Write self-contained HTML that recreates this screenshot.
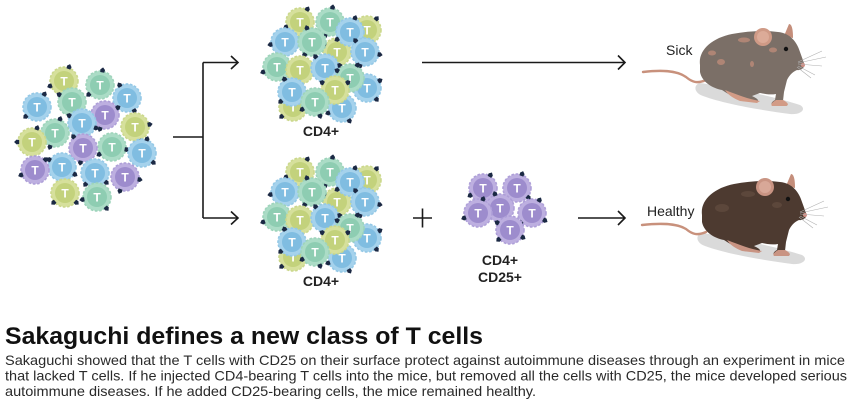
<!DOCTYPE html>
<html><head><meta charset="utf-8"><style>
html,body{margin:0;padding:0;background:#fff}
svg{display:block}
.o{stroke-width:1.6;stroke-dasharray:2.6 1.7}
.y .o{fill:#d6e09c;stroke:#cbd88c}.y .i{fill:#c3d27c}
.g .o{fill:#abdcc6;stroke:#9ed4bb}.g .i{fill:#8ecdb2}
.b .o{fill:#a5d2ec;stroke:#94c8e6}.b .i{fill:#80bde1}
.p .o{fill:#bdafe0;stroke:#ae9fd8}.p .i{fill:#9d8ccd}
.c text{font-family:"Liberation Sans",sans-serif;font-weight:bold;font-size:12px;fill:#fff;text-anchor:middle}
.c use{fill:#1b2944}
.lbl{font-family:"Liberation Sans",sans-serif;font-weight:bold;font-size:14px;fill:#222;text-anchor:middle}
.ml{font-family:"Liberation Sans",sans-serif;font-size:14px;fill:#222}
.ar{stroke:#1a1a1a;stroke-width:1.6;fill:none}
</style></head><body>
<svg width="850" height="408" viewBox="0 0 850 408" xmlns="http://www.w3.org/2000/svg">
<defs>
<path id="r" d="M-2,-12.8 L-2.4,-15.5 L0,-17.9 L2.4,-15.5 L2,-12.8 Z"/>
</defs>
<rect width="850" height="408" fill="#fff"/>

<!-- Left cluster -->
<g>
<g class="c y" transform="translate(64,81)"><circle class="o" r="14"/><circle class="i" r="10"/><text y="4.3">T</text><use href="#r" transform="rotate(20)"/><use href="#r" transform="rotate(250)"/></g>
<g class="c g" transform="translate(100,85)"><circle class="o" r="14"/><circle class="i" r="10"/><text y="4.3">T</text><use href="#r" transform="rotate(10)"/><use href="#r" transform="rotate(230)"/></g>
<g class="c b" transform="translate(37,107)"><circle class="o" r="14"/><circle class="i" r="10"/><text y="4.3">T</text><use href="#r" transform="rotate(30)"/><use href="#r" transform="rotate(230)"/></g>
<g class="c b" transform="translate(127,98)"><circle class="o" r="14"/><circle class="i" r="10"/><text y="4.3">T</text><use href="#r" transform="rotate(330)"/><use href="#r" transform="rotate(150)"/></g>
<g class="c g" transform="translate(72,102)"><circle class="o" r="14"/><circle class="i" r="10"/><text y="4.3">T</text><use href="#r" transform="rotate(300)"/><use href="#r" transform="rotate(140)"/></g>
<g class="c p" transform="translate(105,115)"><circle class="o" r="14"/><circle class="i" r="10"/><text y="4.3">T</text><use href="#r" transform="rotate(200)"/><use href="#r" transform="rotate(60)"/></g>
<g class="c b" transform="translate(82,123)"><circle class="o" r="14"/><circle class="i" r="10"/><text y="4.3">T</text><use href="#r" transform="rotate(110)"/><use href="#r" transform="rotate(300)"/></g>
<g class="c y" transform="translate(135,127)"><circle class="o" r="14"/><circle class="i" r="10"/><text y="4.3">T</text><use href="#r" transform="rotate(80)"/><use href="#r" transform="rotate(160)"/></g>
<g class="c g" transform="translate(55,133)"><circle class="o" r="14"/><circle class="i" r="10"/><text y="4.3">T</text><use href="#r" transform="rotate(20)"/><use href="#r" transform="rotate(200)"/></g>
<g class="c y" transform="translate(32,142)"><circle class="o" r="14"/><circle class="i" r="10"/><text y="4.3">T</text><use href="#r" transform="rotate(270)"/><use href="#r" transform="rotate(20)"/></g>
<g class="c g" transform="translate(112,147)"><circle class="o" r="14"/><circle class="i" r="10"/><text y="4.3">T</text><use href="#r" transform="rotate(240)"/><use href="#r" transform="rotate(100)"/></g>
<g class="c p" transform="translate(83,148)"><circle class="o" r="14"/><circle class="i" r="10"/><text y="4.3">T</text><use href="#r" transform="rotate(190)"/><use href="#r" transform="rotate(320)"/></g>
<g class="c b" transform="translate(142,153)"><circle class="o" r="14"/><circle class="i" r="10"/><text y="4.3">T</text><use href="#r" transform="rotate(130)"/><use href="#r" transform="rotate(20)"/></g>
<g class="c b" transform="translate(62,167)"><circle class="o" r="14"/><circle class="i" r="10"/><text y="4.3">T</text><use href="#r" transform="rotate(120)"/><use href="#r" transform="rotate(300)"/></g>
<g class="c p" transform="translate(35,170)"><circle class="o" r="14"/><circle class="i" r="10"/><text y="4.3">T</text><use href="#r" transform="rotate(250)"/><use href="#r" transform="rotate(45)"/></g>
<g class="c b" transform="translate(95,173)"><circle class="o" r="14"/><circle class="i" r="10"/><text y="4.3">T</text><use href="#r" transform="rotate(220)"/><use href="#r" transform="rotate(130)"/></g>
<g class="c p" transform="translate(125,177)"><circle class="o" r="14"/><circle class="i" r="10"/><text y="4.3">T</text><use href="#r" transform="rotate(100)"/><use href="#r" transform="rotate(200)"/></g>
<g class="c y" transform="translate(65,193)"><circle class="o" r="14"/><circle class="i" r="10"/><text y="4.3">T</text><use href="#r" transform="rotate(230)"/><use href="#r" transform="rotate(130)"/></g>
<g class="c g" transform="translate(97,197)"><circle class="o" r="14"/><circle class="i" r="10"/><text y="4.3">T</text><use href="#r" transform="rotate(140)"/><use href="#r" transform="rotate(260)"/></g>
</g>

<!-- Connector -->
<path class="ar" d="M173,137 H203 M203,62.5 V218 M203,62.5 H238 M203,218 H238"/>
<path class="ar" d="M231,56 L238,62.5 L231,69 M231,211.5 L238,218 L231,224.5"/>

<!-- Top CD4+ cluster -->
<g>
<g class="c y" transform="translate(367,30)"><circle class="o" r="14"/><circle class="i" r="10"/><text y="4.3">T</text><use href="#r" transform="rotate(40)"/></g>
<g class="c y" transform="translate(293,107)"><circle class="o" r="14"/><circle class="i" r="10"/><text y="4.3">T</text><use href="#r" transform="rotate(230)"/></g>
<g class="c b" transform="translate(342,108)"><circle class="o" r="14"/><circle class="i" r="10"/><text y="4.3">T</text><use href="#r" transform="rotate(150)"/><use href="#r" transform="rotate(250)"/></g>
<g class="c b" transform="translate(367,88)"><circle class="o" r="14"/><circle class="i" r="10"/><text y="4.3">T</text><use href="#r" transform="rotate(60)"/><use href="#r" transform="rotate(140)"/></g>
<g class="c y" transform="translate(337,52)"><circle class="o" r="14"/><circle class="i" r="10"/><text y="4.3">T</text><use href="#r" transform="rotate(300)"/></g>
<g class="c y" transform="translate(300,22)"><circle class="o" r="14"/><circle class="i" r="10"/><text y="4.3">T</text><use href="#r" transform="rotate(30)"/><use href="#r" transform="rotate(250)"/></g>
<g class="c g" transform="translate(330,22)"><circle class="o" r="14"/><circle class="i" r="10"/><text y="4.3">T</text><use href="#r" transform="rotate(10)"/><use href="#r" transform="rotate(200)"/></g>
<g class="c b" transform="translate(350,32)"><circle class="o" r="14"/><circle class="i" r="10"/><text y="4.3">T</text><use href="#r" transform="rotate(20)"/><use href="#r" transform="rotate(240)"/></g>
<g class="c b" transform="translate(285,42)"><circle class="o" r="14"/><circle class="i" r="10"/><text y="4.3">T</text><use href="#r" transform="rotate(260)"/><use href="#r" transform="rotate(200)"/></g>
<g class="c g" transform="translate(312,42)"><circle class="o" r="14"/><circle class="i" r="10"/><text y="4.3">T</text><use href="#r" transform="rotate(340)"/><use href="#r" transform="rotate(210)"/></g>
<g class="c b" transform="translate(365,52)"><circle class="o" r="14"/><circle class="i" r="10"/><text y="4.3">T</text><use href="#r" transform="rotate(320)"/><use href="#r" transform="rotate(100)"/><use href="#r" transform="rotate(200)"/></g>
<g class="c g" transform="translate(277,67)"><circle class="o" r="14"/><circle class="i" r="10"/><text y="4.3">T</text><use href="#r" transform="rotate(250)"/><use href="#r" transform="rotate(150)"/></g>
<g class="c y" transform="translate(300,70)"><circle class="o" r="14"/><circle class="i" r="10"/><text y="4.3">T</text><use href="#r" transform="rotate(200)"/></g>
<g class="c b" transform="translate(325,68)"><circle class="o" r="14"/><circle class="i" r="10"/><text y="4.3">T</text><use href="#r" transform="rotate(320)"/><use href="#r" transform="rotate(80)"/></g>
<g class="c g" transform="translate(350,78)"><circle class="o" r="14"/><circle class="i" r="10"/><text y="4.3">T</text><use href="#r" transform="rotate(30)"/><use href="#r" transform="rotate(300)"/></g>
<g class="c b" transform="translate(292,92)"><circle class="o" r="14"/><circle class="i" r="10"/><text y="4.3">T</text><use href="#r" transform="rotate(230)"/><use href="#r" transform="rotate(330)"/></g>
<g class="c y" transform="translate(335,90)"><circle class="o" r="14"/><circle class="i" r="10"/><text y="4.3">T</text><use href="#r" transform="rotate(300)"/><use href="#r" transform="rotate(60)"/></g>
<g class="c g" transform="translate(315,102)"><circle class="o" r="14"/><circle class="i" r="10"/><text y="4.3">T</text><use href="#r" transform="rotate(240)"/><use href="#r" transform="rotate(160)"/></g>
</g>
<text class="lbl" x="321" y="136">CD4+</text>

<!-- Bottom CD4+ cluster -->
<g transform="translate(0,150)">
<g class="c y" transform="translate(367,30)"><circle class="o" r="14"/><circle class="i" r="10"/><text y="4.3">T</text><use href="#r" transform="rotate(40)"/></g>
<g class="c y" transform="translate(293,107)"><circle class="o" r="14"/><circle class="i" r="10"/><text y="4.3">T</text><use href="#r" transform="rotate(230)"/></g>
<g class="c b" transform="translate(342,108)"><circle class="o" r="14"/><circle class="i" r="10"/><text y="4.3">T</text><use href="#r" transform="rotate(150)"/><use href="#r" transform="rotate(250)"/></g>
<g class="c b" transform="translate(367,88)"><circle class="o" r="14"/><circle class="i" r="10"/><text y="4.3">T</text><use href="#r" transform="rotate(60)"/><use href="#r" transform="rotate(140)"/></g>
<g class="c y" transform="translate(337,52)"><circle class="o" r="14"/><circle class="i" r="10"/><text y="4.3">T</text><use href="#r" transform="rotate(300)"/></g>
<g class="c y" transform="translate(300,22)"><circle class="o" r="14"/><circle class="i" r="10"/><text y="4.3">T</text><use href="#r" transform="rotate(30)"/><use href="#r" transform="rotate(250)"/></g>
<g class="c g" transform="translate(330,22)"><circle class="o" r="14"/><circle class="i" r="10"/><text y="4.3">T</text><use href="#r" transform="rotate(10)"/><use href="#r" transform="rotate(200)"/></g>
<g class="c b" transform="translate(350,32)"><circle class="o" r="14"/><circle class="i" r="10"/><text y="4.3">T</text><use href="#r" transform="rotate(20)"/><use href="#r" transform="rotate(240)"/></g>
<g class="c b" transform="translate(285,42)"><circle class="o" r="14"/><circle class="i" r="10"/><text y="4.3">T</text><use href="#r" transform="rotate(260)"/><use href="#r" transform="rotate(200)"/></g>
<g class="c g" transform="translate(312,42)"><circle class="o" r="14"/><circle class="i" r="10"/><text y="4.3">T</text><use href="#r" transform="rotate(340)"/><use href="#r" transform="rotate(210)"/></g>
<g class="c b" transform="translate(365,52)"><circle class="o" r="14"/><circle class="i" r="10"/><text y="4.3">T</text><use href="#r" transform="rotate(320)"/><use href="#r" transform="rotate(100)"/><use href="#r" transform="rotate(200)"/></g>
<g class="c g" transform="translate(277,67)"><circle class="o" r="14"/><circle class="i" r="10"/><text y="4.3">T</text><use href="#r" transform="rotate(250)"/><use href="#r" transform="rotate(150)"/></g>
<g class="c y" transform="translate(300,70)"><circle class="o" r="14"/><circle class="i" r="10"/><text y="4.3">T</text><use href="#r" transform="rotate(200)"/></g>
<g class="c b" transform="translate(325,68)"><circle class="o" r="14"/><circle class="i" r="10"/><text y="4.3">T</text><use href="#r" transform="rotate(320)"/><use href="#r" transform="rotate(80)"/></g>
<g class="c g" transform="translate(350,78)"><circle class="o" r="14"/><circle class="i" r="10"/><text y="4.3">T</text><use href="#r" transform="rotate(30)"/><use href="#r" transform="rotate(300)"/></g>
<g class="c b" transform="translate(292,92)"><circle class="o" r="14"/><circle class="i" r="10"/><text y="4.3">T</text><use href="#r" transform="rotate(230)"/><use href="#r" transform="rotate(330)"/></g>
<g class="c y" transform="translate(335,90)"><circle class="o" r="14"/><circle class="i" r="10"/><text y="4.3">T</text><use href="#r" transform="rotate(300)"/><use href="#r" transform="rotate(60)"/></g>
<g class="c g" transform="translate(315,102)"><circle class="o" r="14"/><circle class="i" r="10"/><text y="4.3">T</text><use href="#r" transform="rotate(240)"/><use href="#r" transform="rotate(160)"/></g>
</g>
<text class="lbl" x="321" y="286">CD4+</text>

<!-- Plus -->
<path class="ar" d="M413,218 H432 M422.5,208.5 V227.5"/>

<!-- CD25+ cluster -->
<g>
<g class="c p" transform="translate(483,188)"><circle class="o" r="14"/><circle class="i" r="10"/><text y="4.3">T</text><use href="#r" transform="rotate(30)"/><use href="#r" transform="rotate(240)"/></g>
<g class="c p" transform="translate(517,188)"><circle class="o" r="14"/><circle class="i" r="10"/><text y="4.3">T</text><use href="#r" transform="rotate(20)"/><use href="#r" transform="rotate(130)"/></g>
<g class="c p" transform="translate(500,208)"><circle class="o" r="14"/><circle class="i" r="10"/><text y="4.3">T</text><use href="#r" transform="rotate(340)"/></g>
<g class="c p" transform="translate(478,213)"><circle class="o" r="14"/><circle class="i" r="10"/><text y="4.3">T</text><use href="#r" transform="rotate(250)"/><use href="#r" transform="rotate(20)"/></g>
<g class="c p" transform="translate(532,213)"><circle class="o" r="14"/><circle class="i" r="10"/><text y="4.3">T</text><use href="#r" transform="rotate(30)"/><use href="#r" transform="rotate(230)"/><use href="#r" transform="rotate(120)"/></g>
<g class="c p" transform="translate(510,230)"><circle class="o" r="14"/><circle class="i" r="10"/><text y="4.3">T</text><use href="#r" transform="rotate(300)"/><use href="#r" transform="rotate(230)"/><use href="#r" transform="rotate(120)"/></g>
</g>
<text class="lbl" x="500" y="265">CD4+</text>
<text class="lbl" x="500" y="282">CD25+</text>

<!-- Arrows to mice -->
<path class="ar" d="M422,62.5 H625 M618,55.5 L625,62.5 L618,69.5"/>
<path class="ar" d="M578,218 H625 M618,211 L625,218 L618,225"/>

<text class="ml" x="666" y="55">Sick</text>
<text class="ml" x="647" y="216">Healthy</text>

<!-- Sick mouse -->
<g>
<path d="M700,83 C730,87 775,97 800,105 C807,109 801,115 790,114 C760,110 725,104 703,96 C694,93 693,85 700,83 Z" fill="#dadada"/>
<path d="M643,72 C660,70 676,70 686,77 C692,82 697,84 706,80" stroke="#c8917c" stroke-width="2.4" fill="none" stroke-linecap="round"/>
<path d="M784,36 L789,24 C792,24 793,30 793,38 Z" fill="#c48e7b"/>
<path d="M700,65 C698,50 712,38 732,34 C748,31 765,30 778,32 C790,33 797,42 800,52 L804,63 C806,67 801,71 797,70 C792,72 789,76 787,80 L784,92 L783,101 C786,103 789,105 786,106 L774,106 C770,105 771,102 775,100 L776,94 C770,95 765,94 760,93 L752,96 C756,98 760,100 757,102 L742,101 C735,98 728,94 722,90 C712,88 702,82 700,72 Z" fill="#7b6f67"/>
<path d="M725,90 C738,95 748,99 760,101 L757,103 L740,101 C733,98 728,95 725,90 Z" fill="#d29b86"/>
<path d="M776,100 L783,100 C787,102 790,105 786,106 L772,106 C770,104 773,102 776,100 Z" fill="#d29b86"/>
<g fill="#b98a78" opacity="0.85">
<ellipse cx="712" cy="53" rx="4" ry="2.5"/><ellipse cx="721" cy="62" rx="4" ry="3"/><ellipse cx="744" cy="40" rx="6" ry="2.5"/><ellipse cx="773" cy="50" rx="4" ry="2.5"/><ellipse cx="752" cy="64" rx="2" ry="3"/>
</g>
<circle cx="763" cy="37" r="9" fill="#cf9a86"/><circle cx="763" cy="37" r="6" fill="#dcab98"/>
<circle cx="786" cy="49" r="2.2" fill="#111"/>
<circle cx="803" cy="65" r="2" fill="#cf8e84"/>
<g stroke="#b0b0b0" stroke-width="0.6"><path d="M798,62 L822,51 M798,63 L826,57 M798,64 L822,66 M798,66 L815,75 M797,67 L811,78"/></g>
</g>

<!-- Healthy mouse -->
<g transform="translate(2,150)">
<path d="M700,83 C730,87 775,97 800,105 C807,109 801,115 790,114 C760,110 725,104 703,96 C694,93 693,85 700,83 Z" fill="#dadada"/>
<path d="M640,75 C658,73 674,73 684,79 C690,84 695,86 704,82" stroke="#c8917c" stroke-width="2.4" fill="none" stroke-linecap="round"/>
<path d="M784,36 L789,24 C792,24 793,30 793,38 Z" fill="#c48e7b"/>
<path d="M700,65 C698,50 712,38 732,34 C748,31 765,30 778,32 C790,33 797,42 800,52 L804,63 C806,67 801,71 797,70 C792,72 789,76 787,80 L784,92 L783,101 C786,103 789,105 786,106 L774,106 C770,105 771,102 775,100 L776,94 C770,95 765,94 760,93 L752,96 C756,98 760,100 757,102 L742,101 C735,98 728,94 722,90 C712,88 702,82 700,72 Z" fill="#4d3a30"/>
<path d="M725,90 C738,95 748,99 760,101 L757,103 L740,101 C733,98 728,95 725,90 Z" fill="#c99483"/>
<path d="M776,100 L783,100 C787,102 790,105 786,106 L772,106 C770,104 773,102 776,100 Z" fill="#c99483"/>
<g fill="#5e493d" opacity="0.9">
<ellipse cx="720" cy="58" rx="7" ry="4"/><ellipse cx="746" cy="44" rx="7" ry="3"/><ellipse cx="775" cy="55" rx="5" ry="3"/>
</g>
<circle cx="763" cy="37" r="9" fill="#c99483"/><circle cx="763" cy="37" r="6" fill="#d8a898"/>
<circle cx="786" cy="49" r="2.2" fill="#111"/>
<circle cx="803" cy="65" r="2" fill="#cf8e84"/>
<g stroke="#b0b0b0" stroke-width="0.6"><path d="M798,62 L822,51 M798,63 L826,57 M798,64 L822,66 M798,66 L815,75 M797,67 L811,78"/></g>
</g>

<!-- Text -->
<text x="5" y="344" font-family="Liberation Sans, sans-serif" font-weight="bold" font-size="24.5" fill="#111" textLength="478" lengthAdjust="spacingAndGlyphs">Sakaguchi defines a new class of T cells</text>
<g font-family="Liberation Sans, sans-serif" font-size="14" fill="#2a2a2a">
<text x="5" y="365" textLength="840" lengthAdjust="spacingAndGlyphs">Sakaguchi showed that the T cells with CD25 on their surface protect against autoimmune diseases through an experiment in mice</text>
<text x="5" y="380.5" textLength="842" lengthAdjust="spacingAndGlyphs">that lacked T cells. If he injected CD4-bearing T cells into the mice, but removed all the cells with CD25, the mice developed serious</text>
<text x="5" y="396" textLength="531" lengthAdjust="spacingAndGlyphs">autoimmune diseases. If he added CD25-bearing cells, the mice remained healthy.</text>
</g>
</svg>
</body></html>
